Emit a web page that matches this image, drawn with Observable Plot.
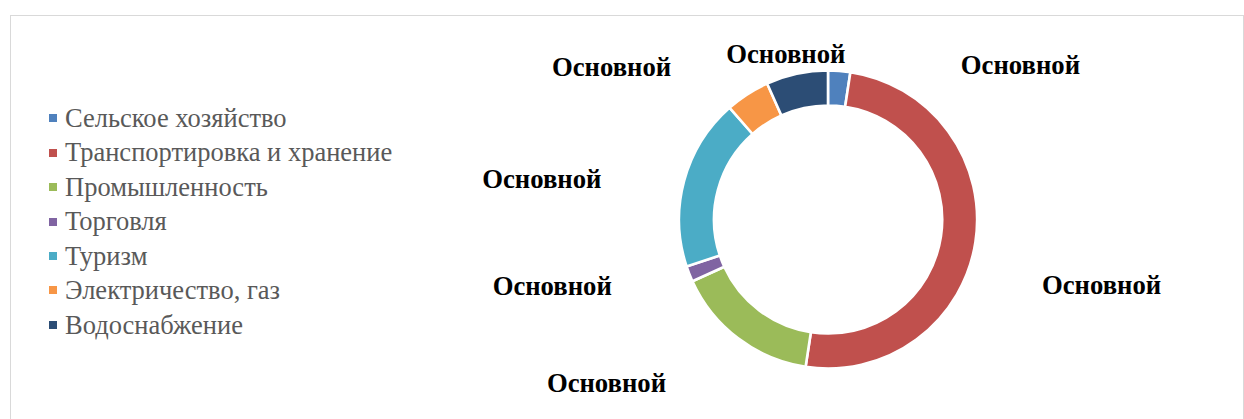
<!DOCTYPE html>
<html><head><meta charset="utf-8">
<script src="https://cdn.jsdelivr.net/npm/d3@7"></script>
<script src="https://cdn.jsdelivr.net/npm/@observablehq/plot@0.6"></script>
<style>
html,body{margin:0;padding:0;background:#fff;width:1244px;height:419px;overflow:hidden;}
#frame{position:absolute;left:10px;top:15px;width:1234px;height:430px;border:1px solid #d9d9d9;box-sizing:border-box;}
#legend{position:absolute;left:49px;top:101px;font-family:"Liberation Serif","Times New Roman",serif;font-size:26.5px;color:#595959;}
.item{height:34.45px;line-height:34.45px;display:flex;align-items:center;white-space:nowrap;}
.sw{width:8px;height:8px;margin-right:8px;flex:none;}
#chart{position:absolute;left:430px;top:15px;}
</style></head><body>
<div id="frame"></div><div id="legend"></div><div id="chart"></div>
<script>
// ---- data ----
const categories = ["Сельское хозяйство", "Транспортировка и хранение", "Промышленность", "Торговля", "Туризм", "Электричество, газ", "Водоснабжение"];
const values = [2.4, 50, 15.8, 1.7, 18.6, 4.8, 6.7];
const sliceLabels = ["Основной", "Основной", "Основной", "Основной", "Основной", "Основной", "Основной"];
const colors = ["#4F81BD", "#C0504D", "#9BBB59", "#8064A2", "#4BACC6", "#F79646", "#2C4D75"];

// ---- layout (label placement, like Excel "best fit") ----
const labelAngleShift = [46.8, 4.8, 16.6, 7.9, -7.1, -22.2, -2.4]; // degrees from slice mid-angle
const labelRadius = [1.666, 1.897, 1.862, 1.920, 1.956, 1.790, 1.155];  // in outer radii
const outerR = 149, innerR = 114, pxPerUnit = 148;
const W = 796, H = 409, cx = 398, cy = 204.5;

const color = Plot.scale({color: {type: "ordinal", domain: categories, range: colors}});

// legend
const legend = d3.select("#legend");
categories.forEach(c => {
  const it = legend.append("div").attr("class", "item");
  it.append("span").attr("class", "sw").style("background", color.apply(c));
  it.append("span").text(c);
});

const pie = d3.pie().sort(null).value(d => d.value)(categories.map((c, i) => ({category: c, value: values[i]})));
const labelData = pie.map((p, i) => {
  const a = (p.startAngle + p.endAngle) / 2 + labelAngleShift[i] * Math.PI / 180;
  return {text: sliceLabels[i], x: labelRadius[i] * Math.sin(a), y: labelRadius[i] * Math.cos(a)};
});

const donut = (index, scales) => {
  const x0 = scales.x(0), y0 = scales.y(0), k = (scales.x(1) - scales.x(0)) / pxPerUnit;
  const arc = d3.arc().innerRadius(innerR * k).outerRadius(outerR * k);
  const g = d3.create("svg:g").attr("transform", `translate(${x0},${y0})`);
  g.selectAll("path").data(pie).join("path")
    .attr("d", arc)
    .attr("fill", d => color.apply(d.data.category))
    .attr("stroke", "white")
    .attr("stroke-width", 2.6)
    .attr("stroke-linejoin", "miter");
  return g.node();
};

const chart = Plot.plot({
  width: W, height: H, margin: 0,
  style: {background: "transparent", overflow: "visible"},
  x: {domain: [-cx / pxPerUnit, (W - cx) / pxPerUnit], axis: null},
  y: {domain: [-(H - cy) / pxPerUnit, cy / pxPerUnit], axis: null},
  marks: [
    donut,
    Plot.text(labelData, {x: "x", y: "y", text: "text", fill: "black", fontSize: 26.7, fontWeight: "bold",
      fontFamily: "'Liberation Serif', 'Times New Roman', serif"})
  ]
});
document.getElementById("chart").appendChild(chart);
</script>
</body></html>
